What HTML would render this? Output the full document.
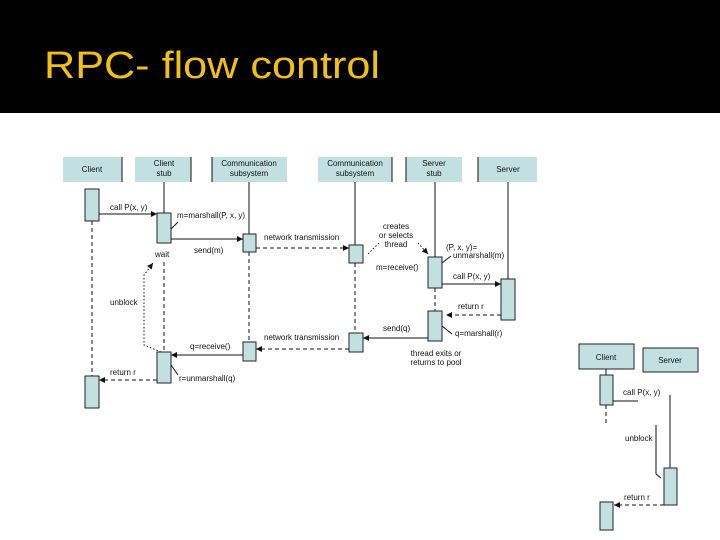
<!DOCTYPE html>
<html><head><meta charset="utf-8"><style>
html,body{margin:0;padding:0;background:#fff;width:720px;height:540px;overflow:hidden}
svg{display:block}
text{font-family:"Liberation Sans",Arial,sans-serif;font-size:8px;fill:#111}
.b{fill:#c2e0e2;stroke:none}
.a{fill:#c2e0e2;stroke:#222;stroke-width:1}
.l{stroke:#111;stroke-width:1;fill:none}
.d{stroke:#111;stroke-width:1;fill:none;stroke-dasharray:4,3}
.o{stroke:#111;stroke-width:1;fill:none;stroke-dasharray:1.5,2}
</style></head><body>
<svg width="720" height="540" viewBox="0 0 720 540" xmlns="http://www.w3.org/2000/svg">
<defs>
<marker id="ar" markerWidth="6" markerHeight="6" refX="6" refY="3" orient="auto" markerUnits="userSpaceOnUse"><path d="M0,0 L6,3 L0,6 z" fill="#111"/></marker>
</defs>
<rect x="0" y="0" width="720" height="113" fill="#000"/>
<text x="44" y="78" style="font-size:38px;fill:#f2c010" textLength="336" lengthAdjust="spacingAndGlyphs">RPC- flow control</text>

<!-- header boxes -->
<g>
<rect class="b" x="63" y="157" width="59" height="25"/><line class="l" x1="122" y1="157" x2="122" y2="182"/>
<text x="92" y="172" text-anchor="middle">Client</text>
<rect class="b" x="135" y="157" width="56" height="25"/><line class="l" x1="191" y1="157" x2="191" y2="182"/>
<text x="164" y="166" text-anchor="middle">Client</text><text x="164" y="176" text-anchor="middle">stub</text>
<rect class="b" x="212" y="157" width="75" height="25"/><line class="l" x1="212" y1="157" x2="212" y2="182"/>
<text x="249" y="166" text-anchor="middle">Communication</text><text x="249" y="176" text-anchor="middle">subsystem</text>
<rect class="b" x="318" y="157" width="74" height="25"/><line class="l" x1="392" y1="157" x2="392" y2="182"/>
<text x="355" y="166" text-anchor="middle">Communication</text><text x="355" y="176" text-anchor="middle">subsystem</text>
<rect class="b" x="406" y="157" width="56" height="25"/><line class="l" x1="406" y1="157" x2="406" y2="182"/>
<text x="434" y="166" text-anchor="middle">Server</text><text x="434" y="176" text-anchor="middle">stub</text>
<rect class="b" x="478" y="157" width="59" height="25"/><line class="l" x1="478" y1="157" x2="478" y2="182"/>
<text x="508" y="172" text-anchor="middle">Server</text>
</g>

<!-- lifelines -->
<line class="d" x1="92" y1="221" x2="92" y2="376"/>
<line class="l" x1="164" y1="182" x2="164" y2="213"/>
<line class="d" x1="164" y1="262" x2="164" y2="352"/>
<line class="l" x1="249" y1="182" x2="249" y2="234"/>
<line class="d" x1="249" y1="252" x2="249" y2="342"/>
<line class="l" x1="355" y1="182" x2="355" y2="245"/>
<line class="d" x1="355" y1="263" x2="355" y2="333"/>
<line class="l" x1="435" y1="182" x2="435" y2="257"/>
<line class="d" x1="435" y1="288" x2="435" y2="311"/>
<line class="l" x1="508" y1="182" x2="508" y2="279"/>

<!-- activations -->
<rect class="a" x="85" y="189" width="14" height="32"/>
<rect class="a" x="157" y="213" width="14" height="30"/>
<rect class="a" x="243" y="234" width="13" height="18"/>
<rect class="a" x="349" y="245" width="14" height="18"/>
<rect class="a" x="428" y="257" width="14" height="31"/>
<rect class="a" x="501" y="279" width="14" height="41"/>
<rect class="a" x="428" y="311" width="14" height="30"/>
<rect class="a" x="349" y="333" width="14" height="19"/>
<rect class="a" x="243" y="342" width="13" height="19"/>
<rect class="a" x="157" y="352" width="14" height="31"/>
<rect class="a" x="85" y="376" width="14" height="32"/>

<!-- messages -->
<line class="l" x1="99" y1="214" x2="157" y2="214" marker-end="url(#ar)"/>
<text x="110" y="210">call P(x, y)</text>
<text x="177" y="218">m=marshall(P, x, y)</text>
<line class="l" x1="171" y1="229" x2="178" y2="222"/>
<line class="l" x1="171" y1="239" x2="243" y2="239" marker-end="url(#ar)"/>
<text x="194" y="253">send(m)</text>
<line class="d" x1="256" y1="248" x2="349" y2="248" marker-end="url(#ar)"/>
<text x="264" y="240">network transmission</text>
<line class="o" x1="368" y1="254" x2="380" y2="242"/>
<text x="396" y="229" text-anchor="middle">creates</text>
<text x="396" y="238" text-anchor="middle">or selects</text>
<text x="396" y="247" text-anchor="middle">thread</text>
<line class="o" x1="418" y1="243" x2="428" y2="254" marker-end="url(#ar)"/>
<text x="446" y="250">(P, x, y)=</text>
<text x="453" y="258">unmarshall(m)</text>
<line class="l" x1="442" y1="263" x2="451" y2="256"/>
<text x="376" y="270">m=receive()</text>
<line class="l" x1="442" y1="284" x2="501" y2="284" marker-end="url(#ar)"/>
<text x="453" y="279">call P(x, y)</text>
<text x="458" y="309">return r</text>
<line class="d" x1="501" y1="315" x2="446" y2="315" marker-end="url(#ar)"/>
<text x="455" y="336">q=marshall(r)</text>
<line class="l" x1="442" y1="326" x2="452" y2="334"/>
<text x="383" y="331">send(q)</text>
<line class="l" x1="428" y1="338" x2="363" y2="338" marker-end="url(#ar)"/>
<text x="436" y="356" text-anchor="middle">thread exits or</text>
<text x="436" y="365" text-anchor="middle">returns to pool</text>
<text x="264" y="340">network transmission</text>
<line class="d" x1="349" y1="349" x2="256" y2="349" marker-end="url(#ar)"/>
<text x="190" y="349">q=receive()</text>
<line class="l" x1="243" y1="355" x2="171" y2="355" marker-end="url(#ar)"/>
<text x="179" y="381">r=unmarshall(q)</text>
<line class="l" x1="171" y1="365" x2="178" y2="375"/>
<text x="110" y="375">return r</text>
<line class="d" x1="157" y1="380" x2="99" y2="380" marker-end="url(#ar)"/>
<text x="155" y="257">wait</text>
<text x="110" y="305">unblock</text>
<path class="o" d="M161,352 L144,345 L144,275 L153,263" marker-end="url(#ar)"/>

<!-- small diagram -->
<rect class="b" x="579" y="344" width="55" height="25" style="stroke:#222"/>
<text x="606" y="360" text-anchor="middle">Client</text>
<rect class="b" x="643" y="348" width="55" height="24" style="stroke:#222"/>
<text x="670" y="363" text-anchor="middle">Server</text>
<line class="l" x1="606" y1="369" x2="606" y2="375"/>
<rect class="a" x="600" y="375" width="13" height="30"/>
<line class="d" x1="606" y1="405" x2="606" y2="425"/>
<line class="l" x1="613" y1="401" x2="638" y2="401"/>
<text x="623" y="395">call P(x, y)</text>
<line class="l" x1="670" y1="395" x2="670" y2="468"/>
<rect class="a" x="664" y="468" width="13" height="37"/>
<text x="625" y="441">unblock</text>
<path class="l" d="M656,425 L656,474 L661,478"/>
<text x="624" y="500">return r</text>
<line class="d" x1="664" y1="505" x2="614" y2="505" marker-end="url(#ar)"/>
<rect class="a" x="600" y="502" width="13" height="28"/>
</svg>
</body></html>
